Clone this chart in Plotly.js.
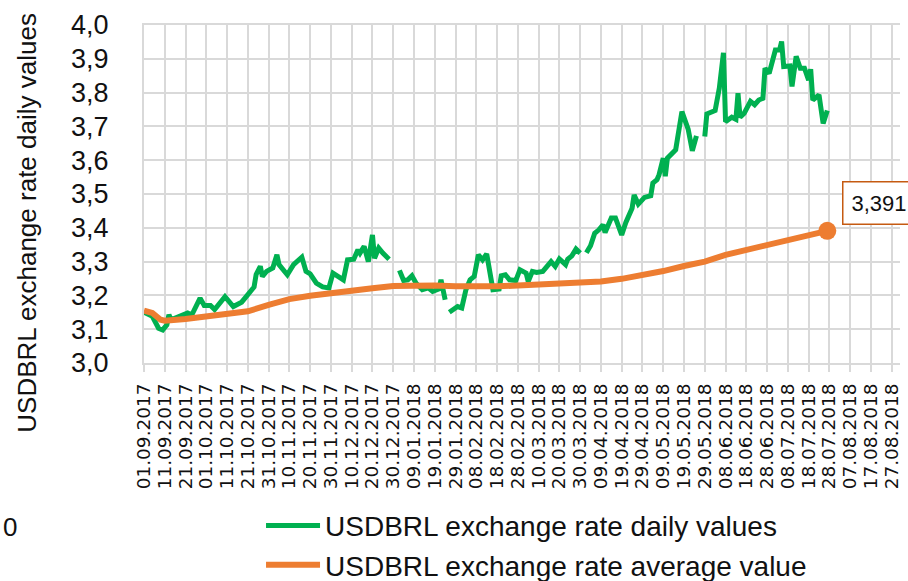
<!DOCTYPE html>
<html>
<head>
<meta charset="utf-8">
<script src="https://cdn.plot.ly/plotly-3.0.1.min.js"></script>
<style>
  html, body { margin: 0; padding: 0; background: #fff; }
  #chart { width: 908px; height: 581px; }
</style>
</head>
<body>
<div id="chart"></div>
<script>
// ---- Data ----
const greenName = 'USDBRL exchange rate daily values';
const orangeName = 'USDBRL exchange rate average value';

const greenDates = [
  '2017-09-01','2017-09-05','2017-09-08','2017-09-10','2017-09-12','2017-09-13','2017-09-14','2017-09-18','2017-09-22','2017-09-24','2017-09-28','2017-09-30',
  '2017-10-03','2017-10-05','2017-10-10','2017-10-14','2017-10-18','2017-10-21','2017-10-24','2017-10-25','2017-10-27','2017-10-28','2017-10-30',
  '2017-11-02','2017-11-04','2017-11-05','2017-11-09','2017-11-12','2017-11-16','2017-11-18','2017-11-20','2017-11-23','2017-11-26','2017-11-29',
  '2017-12-01','2017-12-06','2017-12-08','2017-12-11','2017-12-13','2017-12-14','2017-12-16','2017-12-18','2017-12-20','2017-12-21','2017-12-23','2017-12-25','2017-12-28','2017-12-31',
  '2018-01-02','2018-01-04','2018-01-06','2018-01-08','2018-01-10','2018-01-13','2018-01-16','2018-01-18','2018-01-21','2018-01-22','2018-01-24','2018-01-25','2018-01-26','2018-01-30',
  '2018-02-01','2018-02-03','2018-02-05','2018-02-07','2018-02-09','2018-02-11','2018-02-13','2018-02-15','2018-02-16','2018-02-19','2018-02-20','2018-02-22','2018-02-24','2018-02-27',
  '2018-03-01','2018-03-04','2018-03-05','2018-03-07','2018-03-09','2018-03-12','2018-03-14','2018-03-16','2018-03-18','2018-03-20','2018-03-23','2018-03-24','2018-03-26','2018-03-28','2018-03-30','2018-03-31',
  '2018-04-02','2018-04-04','2018-04-06','2018-04-08','2018-04-10','2018-04-11','2018-04-14','2018-04-16','2018-04-19','2018-04-21','2018-04-24','2018-04-25','2018-04-27','2018-04-30',
  '2018-05-03','2018-05-04','2018-05-06','2018-05-07','2018-05-09','2018-05-10','2018-05-11','2018-05-15','2018-05-18','2018-05-21','2018-05-23','2018-05-25','2018-05-27','2018-05-29','2018-05-30',
  '2018-06-03','2018-06-05','2018-06-07','2018-06-08','2018-06-11','2018-06-13','2018-06-14','2018-06-15','2018-06-17','2018-06-18','2018-06-20','2018-06-22','2018-06-24','2018-06-26','2018-06-27','2018-06-29',
  '2018-07-02','2018-07-04','2018-07-05','2018-07-06','2018-07-09','2018-07-10','2018-07-12','2018-07-14','2018-07-16','2018-07-18','2018-07-19','2018-07-20','2018-07-23','2018-07-25','2018-07-27'
];
const greenValues = [
  3.150, 3.138, 3.103, 3.098, 3.113, 3.143, 3.128, 3.139, 3.148, 3.142, 3.192, 3.170,
  3.170, 3.158, 3.196, 3.167, 3.180, 3.202, 3.225, 3.262, 3.286, 3.256, 3.271,
  3.281, 3.320, 3.291, 3.261, 3.291, 3.313, 3.271, 3.264, 3.236, 3.225, 3.222,
  3.266, 3.246, 3.305, 3.307, 3.335, 3.325, 3.345, 3.300, 3.379, 3.310, 3.340, 3.325, 3.307, null,
  3.274, 3.244, 3.246, 3.258, 3.236, 3.217, 3.222, 3.212, 3.219, 3.246, 3.187, null, 3.150, 3.167,
  3.163, 3.217, 3.246, 3.256, 3.320, 3.305, 3.323, 3.246, 3.217, 3.219, 3.258, 3.261, 3.246, 3.244,
  3.276, 3.266, 3.241, 3.271, 3.268, 3.271, 3.283, 3.300, 3.286, 3.308, 3.291, 3.307, 3.317, 3.337, 3.325, null,
  3.326, 3.347, 3.384, 3.394, 3.409, 3.386, 3.429, 3.429, 3.379, 3.416, 3.458, 3.497, 3.470, 3.490,
  3.495, 3.532, 3.542, 3.557, 3.606, 3.553, 3.606, 3.631, 3.744, 3.692, 3.628, 3.672, null, 3.670, 3.737,
  3.747, 3.813, 3.918, 3.714, 3.727, 3.721, 3.798, 3.727, 3.739, 3.749, 3.774, 3.764, 3.778, 3.783, 3.872, 3.857,
  3.926, 3.926, 3.951, 3.877, 3.879, 3.818, 3.907, 3.872, 3.872, 3.837, 3.869, 3.778, 3.793, 3.709, 3.747
];

const orangeDates = [
  '2017-09-01','2017-09-05','2017-09-09','2017-09-11','2017-09-21','2017-10-01','2017-10-11','2017-10-21','2017-10-31',
  '2017-11-10','2017-11-20','2017-11-30','2017-12-10','2017-12-20','2017-12-30','2018-01-09','2018-01-19','2018-01-29',
  '2018-02-08','2018-02-18','2018-02-28','2018-03-10','2018-03-20','2018-03-30','2018-04-09','2018-04-19','2018-04-29',
  '2018-05-09','2018-05-19','2018-05-29','2018-06-08','2018-06-18','2018-06-28','2018-07-08','2018-07-18','2018-07-27'
];
const orangeValues = [
  3.155, 3.148, 3.128, 3.125, 3.130, 3.137, 3.146, 3.153, 3.172,
  3.189, 3.199, 3.205, 3.213, 3.221, 3.228, 3.230, 3.229, 3.227,
  3.225, 3.227, 3.229, 3.231, 3.233, 3.236, 3.241, 3.249, 3.259,
  3.272, 3.287, 3.300, 3.320, 3.335, 3.350, 3.364, 3.378, 3.391
];
const lastLabel = '3,391';

const xTickStart = '2017-09-01';
const xRange = ['2017-09-01', '2018-08-31'];
const yRange = [3.0, 4.0];

// ---- Styling ----
const GREEN = '#00b050';
const ORANGE = '#ed7d31';
const GRID = '#d9d9d9';
const TXT = '#111111';
const FONT = '"Liberation Sans", Arial, sans-serif';

const lastIdx = orangeValues.length - 1;

const traces = [
  {
    type: 'scatter', mode: 'lines', name: greenName,
    x: greenDates, y: greenValues,
    connectgaps: false,
    line: { color: GREEN, width: 5 },
    hoverinfo: 'skip'
  },
  {
    type: 'scatter', mode: 'lines', name: orangeName,
    x: orangeDates, y: orangeValues,
    line: { color: ORANGE, width: 6 },
    hoverinfo: 'skip'
  },
  {
    type: 'scatter', mode: 'markers', name: orangeName, showlegend: false,
    x: [orangeDates[lastIdx]], y: [orangeValues[lastIdx]],
    marker: { color: ORANGE, size: 18 },
    hoverinfo: 'skip'
  }
];

const layout = {
  width: 908, height: 581,
  margin: { l: 144, r: 8, t: 25, b: 218, pad: 0, autoexpand: false },
  paper_bgcolor: '#ffffff', plot_bgcolor: '#ffffff',
  separators: ', ',
  font: { family: FONT, color: TXT },
  showlegend: true,
  legend: {
    orientation: 'v', x: 0.1548, xanchor: 'left', y: -0.4074, yanchor: 'top',
    font: { family: FONT, size: 28, color: TXT },
    bgcolor: 'rgba(0,0,0,0)', borderwidth: 0, itemwidth: 54, traceorder: 'normal'
  },
  xaxis: {
    type: 'date', range: xRange, tick0: xTickStart, dtick: 864000000,
    tickformat: '%d.%m.%Y', tickangle: -90,
    tickfont: { family: '"DejaVu Sans", sans-serif', size: 18.5, color: TXT },
    showgrid: true, gridcolor: GRID, gridwidth: 2,
    ticks: 'outside', ticklen: 7, tickcolor: GRID, tickwidth: 2,
    ticklabelstandoff: 4,
    showline: true, linecolor: GRID, linewidth: 2, mirror: true,
    zeroline: false, fixedrange: true
  },
  yaxis: {
    range: yRange, tick0: 3.0, dtick: 0.1, tickformat: '.1f',
    tickfont: { family: FONT, size: 27, color: TXT },
    showgrid: true, gridcolor: GRID, gridwidth: 2,
    ticks: '', ticklabelstandoff: 28,
    showline: true, linecolor: GRID, linewidth: 2,
    zeroline: false, fixedrange: true
  },
  annotations: [
    {
      xref: 'paper', yref: 'paper', x: -0.1548, y: 0.415,
      xanchor: 'center', yanchor: 'middle', textangle: -90, showarrow: false,
      text: greenName, font: { family: FONT, size: 26, color: TXT }
    },
    {
      xref: 'x', yref: 'y', x: orangeDates[lastIdx], y: orangeValues[lastIdx],
      xanchor: 'left', yanchor: 'middle', xshift: 15, yshift: 28, showarrow: false,
      text: lastLabel, font: { family: FONT, size: 22, color: TXT },
      width: 72, align: 'left',
      bgcolor: '#ffffff', bordercolor: '#c55a11', borderwidth: 1.5, borderpad: 8
    },
    {
      xref: 'paper', yref: 'paper', x: -0.1892, y: -0.484,
      xanchor: 'left', yanchor: 'middle', showarrow: false,
      text: '0', font: { family: FONT, size: 26, color: TXT }
    }
  ]
};

Plotly.newPlot('chart', traces, layout, { staticPlot: true, displayModeBar: false });
</script>
</body>
</html>
